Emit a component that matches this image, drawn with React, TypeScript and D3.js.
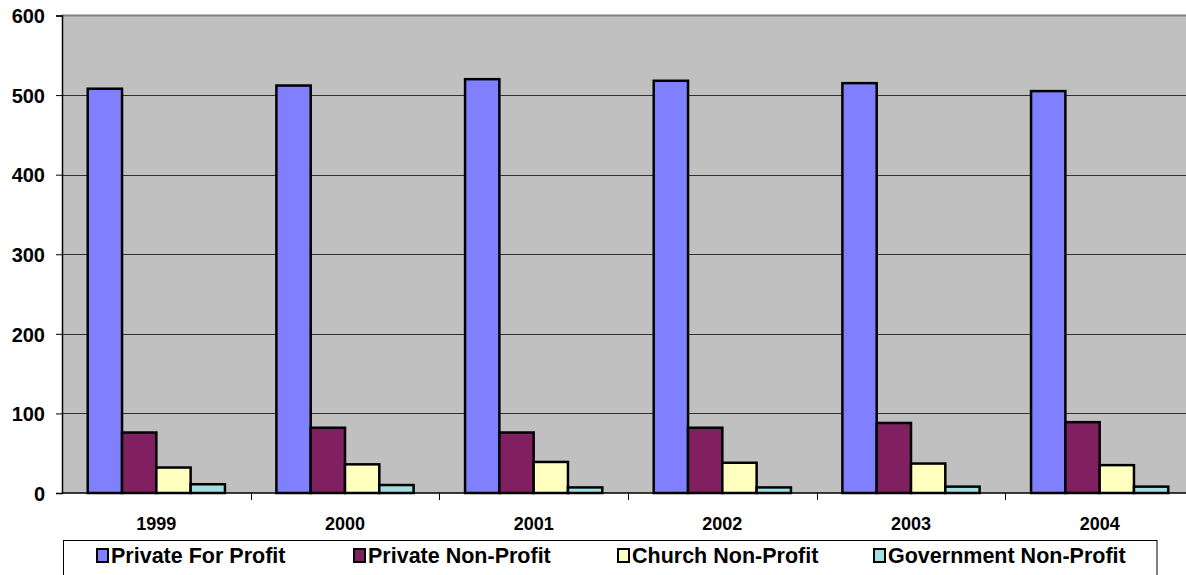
import { useEffect, useRef } from 'react';
import * as d3 from 'd3';

const years = ['1999', '2000', '2001', '2002', '2003', '2004'];
const seriesNames = ['Private For Profit', 'Private Non-Profit', 'Church Non-Profit', 'Government Non-Profit'];
const privateForProfit = [508, 512, 520, 518, 515, 505];
const privateNonProfit = [76, 82, 76, 82, 88, 89];
const churchNonProfit = [32, 36, 39, 38, 37, 35];
const governmentNonProfit = [11, 10, 7, 7, 8, 8];
const yTicks = [0, 100, 200, 300, 400, 500, 600];

const seriesValues = [privateForProfit, privateNonProfit, churchNonProfit, governmentNonProfit];
const colors = ['#8080FF', '#802060', '#FFFFC0', '#A0E0E0'];

const W = 1186;
const H = 575;
const FONT = '"Liberation Sans", Arial, sans-serif';

export default function App() {
  const svgRef = useRef<SVGSVGElement>(null);

  useEffect(() => {
    if (!svgRef.current) return;
    const svg = d3.select(svgRef.current);
    svg.selectAll('*').remove();

    const left = 62;
    const right = 1194;
    const top = 15.5;
    const bottom = 493;

    const x = d3.scaleBand<string>().domain(years).range([left, right]).padding(0);
    const bw = x.bandwidth();
    const gap = (bw / 5.5) * 1.5;
    const xs = d3
      .scaleBand<string>()
      .domain(seriesNames)
      .range([gap / 2, bw - gap / 2])
      .padding(0);
    const y = d3.scaleLinear().domain([0, 600]).range([bottom, top]);

    // plot area
    svg
      .append('rect')
      .attr('x', left)
      .attr('y', top)
      .attr('width', right - left)
      .attr('height', bottom - top)
      .attr('fill', '#C0C0C0');

    // gridlines
    svg
      .append('g')
      .selectAll('line')
      .data(yTicks.filter((d) => d > 0 && d < 600))
      .enter()
      .append('line')
      .attr('x1', left)
      .attr('x2', right)
      .attr('y1', (d) => Math.round(y(d)) + 0.5)
      .attr('y2', (d) => Math.round(y(d)) + 0.5)
      .attr('stroke', '#303030')
      .attr('stroke-width', 1);

    // top border
    svg
      .append('line')
      .attr('x1', left)
      .attr('x2', right)
      .attr('y1', top)
      .attr('y2', top)
      .attr('stroke', '#808080')
      .attr('stroke-width', 2);

    // bars
    seriesNames.forEach((name, si) => {
      svg
        .append('g')
        .selectAll('rect')
        .data(seriesValues[si])
        .enter()
        .append('rect')
        .attr('x', (_, i) => (x(years[i]) ?? 0) + (xs(name) ?? 0))
        .attr('y', (d) => y(d))
        .attr('width', xs.bandwidth())
        .attr('height', (d) => bottom - y(d))
        .attr('fill', colors[si])
        .attr('stroke', '#000')
        .attr('stroke-width', 2.5);
    });

    // y axis
    const yAxis = d3
      .axisLeft(y)
      .tickValues(yTicks)
      .tickSize(6)
      .tickFormat((d) => `${d}`);
    const ya = svg.append('g').attr('transform', `translate(${left},0)`).call(yAxis);
    ya.select('.domain').attr('stroke', '#000').attr('stroke-width', 1.5);
    ya.selectAll('.tick line').attr('stroke', '#000');
    ya.selectAll('.tick text')
      .attr('x', -17)
      .attr('dy', '0.36em')
      .attr('font-family', FONT)
      .attr('font-size', '20px')
      .attr('font-weight', 'bold')
      .attr('fill', '#000');

    // x axis
    svg
      .append('line')
      .attr('x1', left)
      .attr('x2', right)
      .attr('y1', bottom)
      .attr('y2', bottom)
      .attr('stroke', '#000')
      .attr('stroke-width', 1.5);
    svg
      .append('g')
      .selectAll('line')
      .data(years.slice(1))
      .enter()
      .append('line')
      .attr('x1', (d) => Math.round(x(d) ?? 0) + 0.5)
      .attr('x2', (d) => Math.round(x(d) ?? 0) + 0.5)
      .attr('y1', bottom)
      .attr('y2', bottom + 7)
      .attr('stroke', '#000');
    svg
      .append('g')
      .selectAll('text')
      .data(years)
      .enter()
      .append('text')
      .attr('x', (d) => (x(d) ?? 0) + bw / 2)
      .attr('y', 530)
      .attr('text-anchor', 'middle')
      .attr('font-family', FONT)
      .attr('font-size', '18px')
      .attr('font-weight', 'bold')
      .text((d) => d);

    // legend
    const legendX = [96, 353, 617, 873];
    svg
      .append('rect')
      .attr('x', 63.5)
      .attr('y', 540.5)
      .attr('width', 1157 - 63.5)
      .attr('height', 60)
      .attr('fill', '#fff')
      .attr('stroke', '#000')
      .attr('stroke-width', 1);
    seriesNames.forEach((name, i) => {
      const g = svg.append('g').attr('transform', `translate(${legendX[i]},0)`);
      g.append('rect')
        .attr('x', 1)
        .attr('y', 549)
        .attr('width', 11)
        .attr('height', 13)
        .attr('fill', colors[i])
        .attr('stroke', '#000')
        .attr('stroke-width', 2);
      g.append('text')
        .attr('x', 15)
        .attr('y', 563)
        .attr('font-family', FONT)
        .attr('font-size', '21.5px')
        .attr('font-weight', 'bold')
        .attr('fill', '#000')
        .text(name);
    });
  }, []);

  return (
    <div style={{ position: 'absolute', left: 0, top: 0 }}>
      <svg ref={svgRef} width={W} height={H} style={{ display: 'block', background: '#fff' }} />
    </div>
  );
}
